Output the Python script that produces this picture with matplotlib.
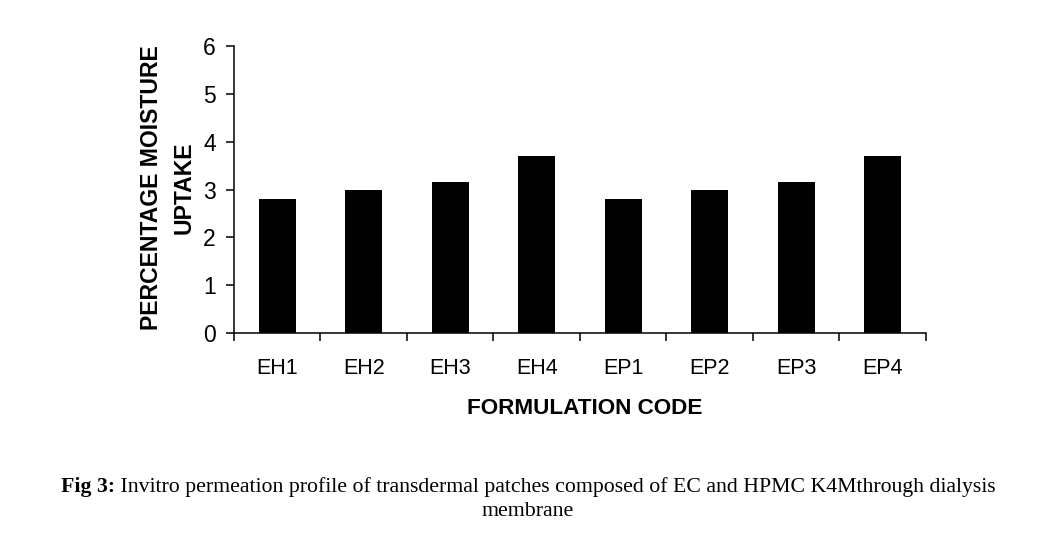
import matplotlib
matplotlib.use("Agg")
import matplotlib.pyplot as plt
import numpy as np

# data
codes = ["EH1", "EH2", "EH3", "EH4", "EP1", "EP2", "EP3", "EP4"]
uptake = [2.8, 3.0, 3.15, 3.7, 2.8, 3.0, 3.15, 3.7]

sans = ["Liberation Sans", "DejaVu Sans"]
serif = ["Liberation Serif", "DejaVu Serif"]

fig = plt.figure(figsize=(10.38, 5.47), dpi=100)
ax = fig.add_axes([0.2254, 0.391, 0.6666, 0.525])

x = np.arange(len(codes))
ax.bar(x, uptake, width=0.43, color="black")

ax.set_xlim(-0.5, len(codes) - 0.5)
ax.set_ylim(0, 6)
ax.set_yticks(range(0, 7))
ax.set_xticks(x)
ax.set_xticklabels(codes, fontfamily=sans, fontsize=15.5)
ax.set_xticks(np.arange(-0.5, len(codes)), minor=True)
ax.tick_params(axis="x", which="major", length=0, pad=18)
ax.tick_params(axis="x", which="minor", length=6, width=1.1, direction="out")
ax.tick_params(axis="y", length=6, width=1.1, direction="out", pad=7, labelsize=16.5)
for lab in ax.get_yticklabels():
    lab.set_fontfamily(sans)

for s in ["top", "right"]:
    ax.spines[s].set_visible(False)
for s in ["left", "bottom"]:
    ax.spines[s].set_linewidth(1.1)

fig.text(585 / 1038, 1 - 408 / 547, "FORMULATION CODE", ha="center", va="center",
         fontfamily=sans, fontsize=16.2, fontweight="bold")
fig.text(168 / 1038, 1 - 188 / 547, "PERCENTAGE MOISTURE\nUPTAKE", ha="center", va="center",
         rotation=90, multialignment="center", fontfamily=sans, fontsize=16.6,
         fontweight="bold", linespacing=1.5)

# caption: bold "Fig 3:" followed by regular text, centred as one line
fig.canvas.draw()
r = fig.canvas.get_renderer()
cy = 1 - 487 / 547
t1 = fig.text(0, cy, "Fig 3:", fontfamily=serif, fontsize=15.7, fontweight="bold", va="center")
t2 = fig.text(0, cy, " Invitro permeation profile of transdermal patches composed of EC and HPMC K4Mthrough dialysis",
              fontfamily=serif, fontsize=15.7, va="center")
w1 = t1.get_window_extent(r).width
w2 = t2.get_window_extent(r).width
x0 = 528 - (w1 + w2) / 2
t1.set_x(x0 / 1038)
t2.set_x((x0 + w1) / 1038)
fig.text(528 / 1038, 1 - 512 / 547, "membrane", ha="center", va="center",
         fontfamily=serif, fontsize=15.7)

fig.savefig("out.png", dpi=100)
